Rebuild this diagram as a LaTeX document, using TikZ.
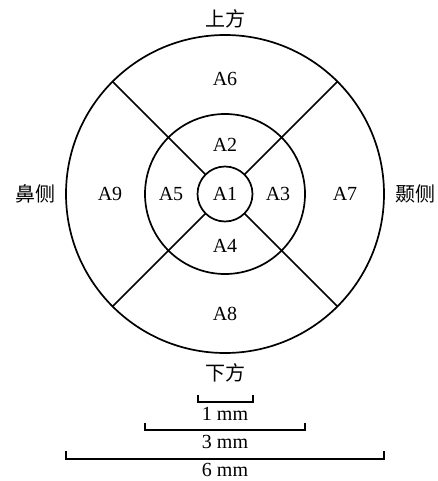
\documentclass[tikz,border=0pt]{standalone}
\usepackage{fontspec}
\usetikzlibrary{calc}
\setmainfont{Liberation Serif}
\newfontfamily\cjk{Noto Sans CJK SC}
\begin{document}
\begin{tikzpicture}[x=1pt,y=-1pt,
  lab/.style={font=\fontsize{20}{20}\selectfont, inner sep=0pt},
  cjklab/.style={font=\cjk\fontsize{20}{20}\selectfont, inner sep=0pt},
  ring/.style={draw, circle, line width=1.7pt, inner sep=0pt, outer sep=0pt},
  divider/.style={line width=1.7pt},
  bar/.style={line width=2pt}]
\useasboundingbox (0,0) rectangle (438,481);
\coordinate (c) at (225,194);
\node[ring, minimum size=318pt] (outer) at (c) {};
\node[ring, minimum size=160pt] (mid) at (c) {};
\node[ring, minimum size=55pt, font=\fontsize{20}{20}\selectfont] (A1) at (c) {A1};
\foreach \a in {45,135,225,315}
  \draw[divider] (A1.\a) -- (outer.\a);
\node[lab] (A2) at (225,145) {A2};
\node[lab] (A3) at (278,194) {A3};
\node[lab] (A4) at (225,246) {A4};
\node[lab] (A5) at (171,194) {A5};
\node[lab] (A6) at (225,79) {A6};
\node[lab] (A7) at (345,194) {A7};
\node[lab] (A8) at (225,314) {A8};
\node[lab] (A9) at (110,194) {A9};
\node[cjklab] (up) at (225,19) {上方};
\node[cjklab] (down) at (225,373) {下方};
\node[cjklab] (nasal) at (35,194) {鼻侧};
\node[cjklab] (temporal) at (415,194) {颞侧};
% scale bars
\coordinate (b1l) at (198,402); \coordinate (b1r) at (253,402);
\draw[bar] ($(b1l)+(0,-7)$) -- (b1l) -- (b1r) -- ($(b1r)+(0,-7)$);
\node[lab] (s1) at (225,414) {1 mm};
\coordinate (b3l) at (145,430); \coordinate (b3r) at (305,430);
\draw[bar] ($(b3l)+(0,-7)$) -- (b3l) -- (b3r) -- ($(b3r)+(0,-7)$);
\node[lab] (s3) at (225,442) {3 mm};
\coordinate (b6l) at (66,459); \coordinate (b6r) at (384,459);
\draw[bar] ($(b6l)+(0,-8)$) -- (b6l) -- (b6r) -- ($(b6r)+(0,-8)$);
\node[lab] (s6) at (225,470) {6 mm};
\end{tikzpicture}
\end{document}
